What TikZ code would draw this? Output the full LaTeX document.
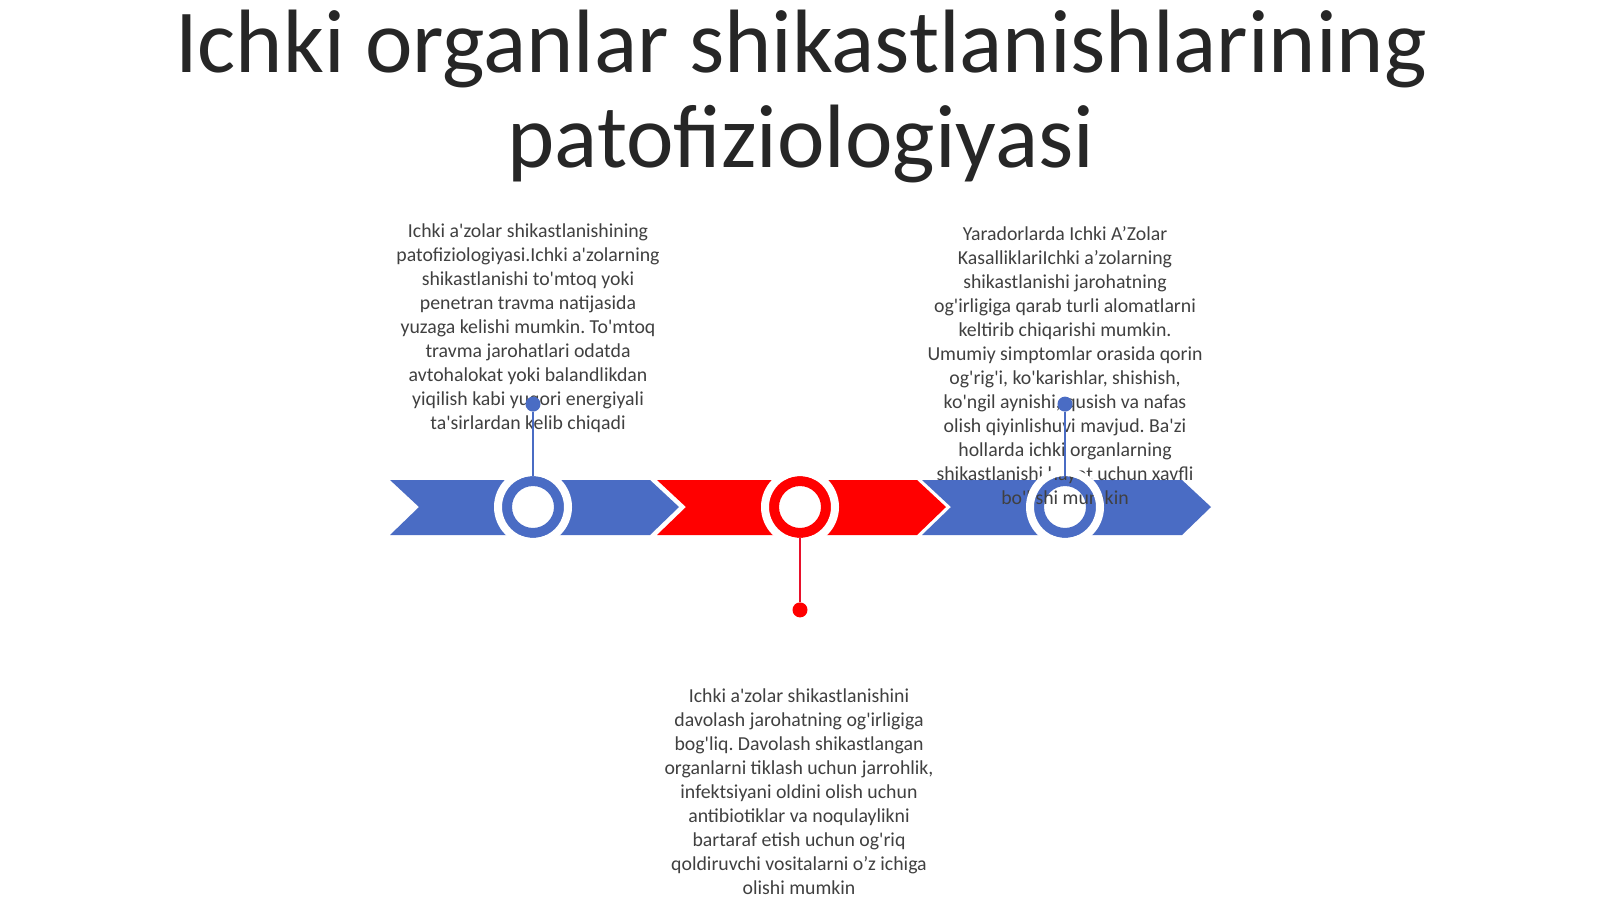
\documentclass[tikz,border=0pt]{standalone}
\usepackage{fontspec}
\setmainfont{Carlito}[Ligatures=TeXOff]
\usetikzlibrary{positioning}
\definecolor{tlblue}{HTML}{4A6CC4}
\definecolor{tlred}{HTML}{FF0000}
\definecolor{stemred}{HTML}{E8102A}
\definecolor{titlegray}{HTML}{262626}
\definecolor{bodygray}{HTML}{404040}
\frenchspacing

\begin{document}
\begin{tikzpicture}[x=0.5pt, y=-0.5pt,
    ring/.style={circle, draw=#1, line width=5pt, fill=white, minimum size=26pt, inner sep=0pt},
    halo/.style={draw=white, line width=4pt},
    dot/.style={circle, fill=#1, minimum size=7.5pt, inner sep=0pt},
    stem/.style={draw=#1, line width=1.3pt},
    body/.style={align=center, inner sep=0pt, anchor=north, text=bodygray,
        font=\fontsize{9.9}{12}\selectfont},
    title/.style={anchor=base, inner sep=0pt, text=titlegray, font=\fontsize{45}{50}\selectfont}]
    \fill[white] (0,0) rectangle (1600,899);
    \useasboundingbox (0,0) rectangle (1600,899);

    % title
    \node[title] (ttl1) at (801,73) {Ichki organlar shikastlanishlarining};
    \node[title] (ttl2) at (801,167) {patofiziologiyasi};

    % timeline band
    \foreach \cx/\col in {533/tlblue, 800/tlred, 1065/tlblue}
        \fill[\col] (\cx-143,480) -- (\cx+117,480) -- (\cx+146,507) -- (\cx+117,535)
            -- (\cx-143,535) -- (\cx-114,507) -- cycle;
    \node[ring=tlblue] (ring1) at (533,507) {};
    \node[ring=tlred] (ring2) at (800,507) {};
    \node[ring=tlblue] (ring3) at (1065,507) {};

    % texts
    \node[body] (txt1) at (528,223) {Ichki a'zolar shikastlanishining\\
        patofiziologiyasi.Ichki a'zolarning\\ shikastlanishi to'mtoq yoki\\
        penetran travma natijasida\\ yuzaga kelishi mumkin. To'mtoq\\
        travma jarohatlari odatda\\ avtohalokat yoki balandlikdan\\
        yiqilish kabi yuqori energiyali\\ ta'sirlardan kelib chiqadi};
    \node[body] (txt3) at (1065,226) {Yaradorlarda Ichki A’Zolar\\
        KasalliklariIchki a’zolarning\\ shikastlanishi jarohatning\\
        og'irligiga qarab turli alomatlarni\\ keltirib chiqarishi mumkin.\\
        Umumiy simptomlar orasida qorin\\ og'rig'i, ko'karishlar, shishish,\\
        ko'ngil aynishi, qusish va nafas\\ olish qiyinlishuvi mavjud. Ba'zi\\
        hollarda ichki organlarning\\ shikastlanishi hayot uchun xavfli\\
        bo'lishi mumkin};
    \node[body] (txt2) at (799,688) {Ichki a'zolar shikastlanishini\\
        davolash jarohatning og'irligiga\\ bog'liq. Davolash shikastlangan\\
        organlarni tiklash uchun jarrohlik,\\ infektsiyani oldini olish uchun\\
        antibiotiklar va noqulaylikni\\ bartaraf etish uchun og'riq\\
        qoldiruvchi vositalarni o’z ichiga\\ olishi mumkin};

    % milestones
    \foreach \r in {ring1, ring2, ring3}
        \draw[halo] (\r.center) circle[radius=17.5pt];
    \node[dot=tlblue] (dot1) [above=32pt of ring1] {};
    \node[dot=tlred] (dot2) [below=32pt of ring2] {};
    \node[dot=tlblue] (dot3) [above=32pt of ring3] {};
    \path
    (ring1) edge[stem=tlblue] (dot1)
    (ring2) edge[stem=stemred] (dot2)
    (ring3) edge[stem=tlblue] (dot3)
    ;
\end{tikzpicture}
\end{document}
